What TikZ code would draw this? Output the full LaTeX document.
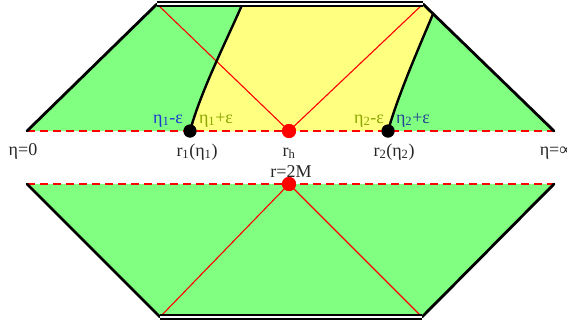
\documentclass[tikz,border=0pt]{standalone}
\usepackage{fontspec}
\setmainfont{Liberation Serif}
\definecolor{lgreen}{RGB}{128,255,128}
\definecolor{lyellow}{RGB}{255,255,128}
\definecolor{lblueA}{RGB}{25,55,205}
\definecolor{lblueB}{RGB}{35,65,150}
\definecolor{lolive}{RGB}{140,165,0}
\begin{document}
\begin{tikzpicture}[x=1pt,y=-1pt,
  slant/.style={line width=2.8pt,line cap=round},
  horizon/.style={red,line width=2.8pt,dash pattern=on 8pt off 5pt},
  thinred/.style={red,line width=1.1pt},
  edgeline/.style={double=white,line width=1.6pt,double distance=2.8pt},
  curveline/.style={line width=2.4pt},
  lbl/.style={font=\fontsize{18}{20}\selectfont,text=black!85,inner sep=0pt,anchor=base},
  reddot/.style={circle,fill=red,inner sep=0pt,minimum size=14pt},
  blackdot/.style={circle,fill=black,inner sep=0pt,minimum size=13pt}]
\useasboundingbox (0,0) rectangle (567,327);
% corners
\coordinate (TL) at (157,4);
\coordinate (TR) at (423,4);
\coordinate (ML1) at (27,131);
\coordinate (MR1) at (554,131);
\coordinate (ML2) at (27,184);
\coordinate (MR2) at (554,184);
\coordinate (BL) at (160,317);
\coordinate (BR) at (422,317);
\coordinate (T1) at (242,5);
\coordinate (T2) at (433,14);
\coordinate (B1) at (190,131);
\coordinate (B2) at (388,131);
% fills
\fill[lgreen] (TL) -- (TR) -- (MR1) -- (ML1) -- cycle;
\fill[lgreen] (ML2) -- (MR2) -- (BR) -- (BL) -- cycle;
\fill[lyellow] (T1) -- (TR) -- (T2) .. controls (420,45) and (398,95) .. (B2)
  -- (B1) .. controls (201,91) and (224,46) .. (T1);
% dots (nodes)
\node[reddot] (rh) at (289,131) {};
\node[reddot] (rm) at (289,184) {};
\node[blackdot] (p1) at (B1) {};
\node[blackdot] (p2) at (B2) {};
% thin red lines
\draw[thinred] (rh.center) -- (TL);
\draw[thinred] (rh.center) -- (TR);
\draw[thinred] (rm.center) -- (BL);
\draw[thinred] (rm.center) -- (BR);
% dashed horizons
\draw[horizon] (ML1) -- (MR1);
\draw[horizon] (ML2) -- (MR2);
% slants
\draw[slant] (TL) -- (ML1);
\draw[slant] (TR) -- (MR1);
\draw[slant] (ML2) -- (BL);
\draw[slant] (MR2) -- (BR);
% curves
\draw[curveline] (p1.center) .. controls (201,91) and (224,46) .. (T1);
\draw[curveline] (p2.center) .. controls (398,95) and (420,45) .. (T2);
% top and bottom double edges
\draw[edgeline] (TL) -- (TR);
\draw[edgeline] (BL) -- (BR);
% redraw dots on top
\node[reddot] at (rh) {};
\node[reddot] at (rm) {};
\node[blackdot] at (p1) {};
\node[blackdot] at (p2) {};
% labels
\node[lbl] (l0) at (23,155) {η=0};
\node[lbl] (linf) at (556,155) {η=∞};
\node[lbl] (lr1) at (197,156) {r\textsubscript{1}(η\textsubscript{1})};
\node[lbl] (lrh) at (289,156) {r\textsubscript{h}};
\node[lbl] (lr2) at (394,156) {r\textsubscript{2}(η\textsubscript{2})};
\node[lbl] (l2m) at (291,177) {r=2M};
\node[lbl,text=lblueA] (e1m) at (168,123) {η\textsubscript{1}-ε};
\node[lbl,text=lolive] (e1p) at (216,123) {η\textsubscript{1}+ε};
\node[lbl,text=lolive] (e2m) at (369,123) {η\textsubscript{2}-ε};
\node[lbl,text=lblueB] (e2p) at (413,123) {η\textsubscript{2}+ε};
\end{tikzpicture}
\end{document}
